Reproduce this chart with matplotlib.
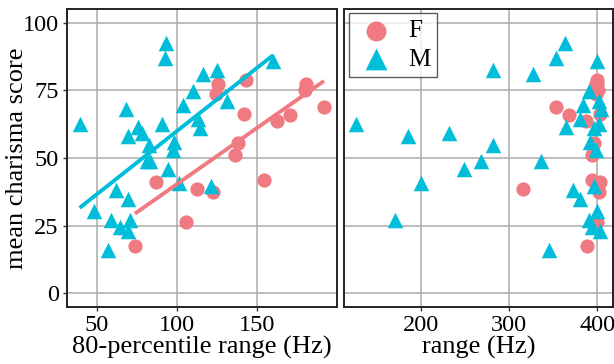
import numpy as np
import matplotlib
matplotlib.use("Agg")
import matplotlib.pyplot as plt

plt.rcParams['font.family'] = ['Liberation Serif', 'DejaVu Serif']

# female speakers: 80-percentile range, full range, mean charisma score
f_p80 = [125.6, 124.4, 143.1, 180.6, 180.0, 142.2, 191.9, 162.7, 171.0,
         138.1, 136.5, 86.9, 112.7, 122.7, 154.4, 105.6, 73.9]
f_range = [398.9, 399.0, 399.5, 400.3, 400.5, 403.0, 353.4, 387.5, 368.5,
           396.0, 394.3, 403.4, 315.5, 401.9, 394.3, 399.6, 389.0]
f_score = [77.2, 73.5, 78.9, 77.2, 75.0, 66.2, 68.9, 63.5, 65.9,
           55.6, 51.0, 41.0, 38.7, 37.5, 41.7, 26.5, 17.4]

# male speakers
m_p80 = [39.4, 93.5, 92.7, 116.4, 125.2, 160.2, 110.2, 103.9, 131.4, 68.6,
         76.1, 90.6, 78.5, 69.4, 113.1, 114.4, 82.7, 98.6, 97.7, 81.4,
         83.5, 94.8, 101.4, 121.1, 62.3, 69.4, 48.6, 59.0, 70.6, 64.4,
         69.8, 56.9]
m_range = [126.9, 364.0, 353.4, 327.6, 282.2, 400.3, 391.3, 384.4, 402.6, 404.2,
           364.8, 402.6, 231.5, 185.2, 380.7, 396.6, 282.2, 392.0, 398.9, 267.8,
           336.7, 248.9, 200.4, 396.6, 372.4, 380.7, 400.3, 391.3, 170.8, 394.3,
           403.4, 345.8]
m_score = [62.5, 92.4, 87.0, 81.1, 82.4, 85.8, 74.7, 69.4, 71.2, 68.2,
           61.5, 62.7, 59.3, 58.1, 64.5, 61.0, 54.9, 55.9, 52.9, 49.0,
           48.8, 45.8, 40.7, 39.7, 38.2, 34.8, 30.6, 27.0, 27.0, 24.5,
           23.0, 16.2]

f_col = '#F07A82'
m_col = '#00BDDA'

fig = plt.figure(figsize=(6.14, 3.64), dpi=100)
ax1 = fig.add_axes([0.1091, 0.1566, 0.4397, 0.8187])
ax2 = fig.add_axes([0.5603, 0.1566, 0.4381, 0.8187])

for ax in (ax1, ax2):
    ax.set_axisbelow(True)
    ax.grid(True, color='#ababab', lw=1.1)
    for s in ax.spines.values():
        s.set_color('#222222')
        s.set_linewidth(1.4)
    ax.set_ylim(-5, 105)
    ax.set_yticks([0, 25, 50, 75, 100])
    ax.tick_params(labelsize=17.5, length=3, width=1, color='#333333', pad=3)

# left: 80-percentile range, with linear fits
ax1.scatter(f_p80, f_score, s=105, marker='o', color=f_col, lw=0, label='F', zorder=3)
ax1.scatter(m_p80, m_score, s=125, marker='^', color=m_col, lw=0, label='M', zorder=3)
for xs, ys, c in ((f_p80, f_score, f_col), (m_p80, m_score, m_col)):
    k, b = np.polyfit(xs, ys, 1)
    xx = np.array([min(xs), max(xs)])
    ax1.plot(xx, k * xx + b, color=c, lw=2.8, zorder=4, solid_capstyle='butt')
ax1.set_xlim(31.5, 200)
ax1.set_xticks([50, 100, 150])
ax1.set_xlabel('80-percentile range (Hz)', fontsize=19)
ax1.set_ylabel('mean charisma score', fontsize=19)
ax1.xaxis.set_label_coords(0.5, -0.098)
ax1.yaxis.set_label_coords(-0.145, 0.5)

# right: full range
ax2.scatter(f_range, f_score, s=105, marker='o', color=f_col, lw=0, label='F', zorder=3)
ax2.scatter(m_range, m_score, s=125, marker='^', color=m_col, lw=0, label='M', zorder=3)
ax2.set_xlim(113, 418)
ax2.set_xticks([200, 300, 400])
ax2.tick_params(axis='y', left=False, labelleft=False)
ax2.set_xlabel('range (Hz)', fontsize=19)
ax2.xaxis.set_label_coords(0.5, -0.098)

leg = ax2.legend(loc='upper left', bbox_to_anchor=(0.02, 0.985), borderaxespad=0,
                 fontsize=18, frameon=True, fancybox=False, markerscale=1.4,
                 handletextpad=0.5, borderpad=0.25, labelspacing=0.25,
                 handlelength=1.6)
leg.get_frame().set_edgecolor('#333333')
leg.get_frame().set_linewidth(1.0)

fig.savefig('out.png', dpi=100)
